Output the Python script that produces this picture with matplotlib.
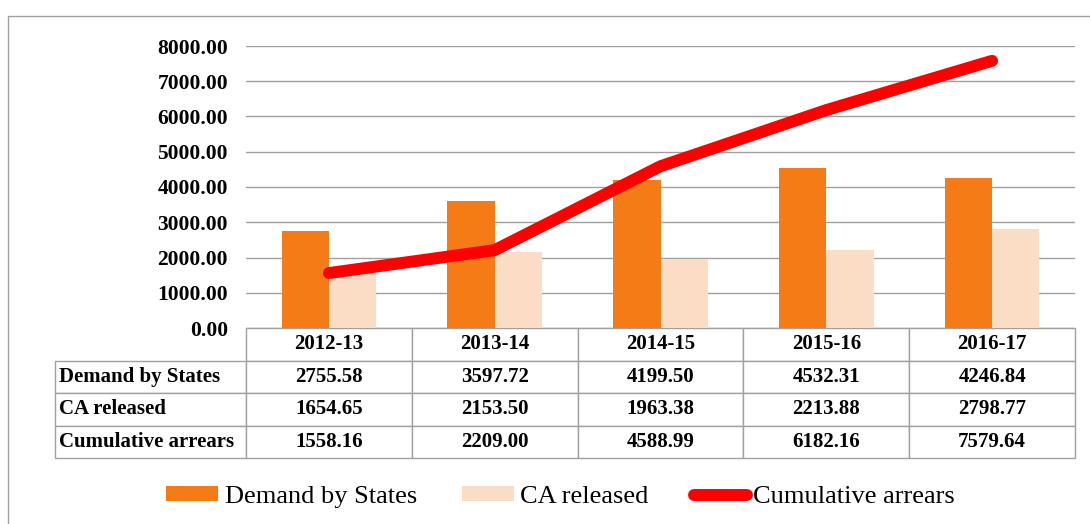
import numpy as np
import matplotlib.pyplot as plt
from matplotlib.patches import Rectangle

years = ['2012-13', '2013-14', '2014-15', '2015-16', '2016-17']
demand = [2755.58, 3597.72, 4199.50, 4532.31, 4246.84]
ca_released = [1654.65, 2153.50, 1963.38, 2213.88, 2798.77]
cumulative = [1558.16, 2209.00, 4588.99, 6182.16, 7579.64]
series_names = ['Demand by States', 'CA released', 'Cumulative arrears']

c_demand = '#F47B16'
c_ca = '#FBDCC4'
c_cum = '#FF0000'

plt.rcParams['font.family'] = ['Liberation Serif', 'DejaVu Serif']

W, H = 1090, 524
fig = plt.figure(figsize=(W / 100, H / 100), dpi=100)
# axes box in pixels
x0, x1, ytop, ybot = 246, 1075, 46, 328
ax = fig.add_axes([x0 / W, 1 - ybot / H, (x1 - x0) / W, (ybot - ytop) / H])

x = np.arange(len(years))
bw = 0.285
b1 = ax.bar(x - bw / 2, demand, bw, color=c_demand, label=series_names[0], zorder=2)
b2 = ax.bar(x + bw / 2, ca_released, bw, color=c_ca, label=series_names[1], zorder=2)
l1, = ax.plot(x, cumulative, color=c_cum, lw=8.6, solid_capstyle='round',
              solid_joinstyle='round', label=series_names[2], zorder=3)

ax.set_xlim(-0.5, len(years) - 0.5)
ax.set_ylim(0, 8000)
ax.set_yticks(np.arange(0, 8001, 1000))
ax.set_yticklabels([f'{v:.2f}' for v in np.arange(0, 8001, 1000)],
                   fontweight='bold', fontsize=15.5)
ax.tick_params(axis='y', length=0, pad=13)
ax.set_xticks([])
ax.yaxis.grid(True, color='#a0a0a0', lw=1)
ax.set_axisbelow(True)
for s in ax.spines.values():
    s.set_visible(False)

# data table under the plot
aw = x1 - x0
ah = ybot - ytop
lab_w = 246 - 55
tab_h = 458 - 328
cell_text = [[name] + [f'{v:.2f}' for v in vals]
             for name, vals in zip(series_names, [demand, ca_released, cumulative])]
tbl = ax.table(cellText=cell_text, colLabels=[''] + years,
               colWidths=[lab_w / aw] + [1 / len(years)] * len(years),
               bbox=[-lab_w / aw, -tab_h / ah, (lab_w + aw) / aw, tab_h / ah],
               cellLoc='center')
tbl.auto_set_font_size(False)
for (r, c), cell in tbl.get_celld().items():
    cell.set_edgecolor('#a0a0a0')
    cell.set_linewidth(1)
    cell.get_text().set_fontsize(15)
    cell.get_text().set_fontweight('bold')
    if c == 0:
        cell.get_text().set_ha('left')
        cell.PAD = 0.02
    if r == 0 and c == 0:
        cell.visible_edges = ''

# outer frame
fig.add_artist(Rectangle((8 / W, -0.1), 1.2, 1 - 16 / H + 0.1,
                         transform=fig.transFigure, fill=False,
                         edgecolor='#a0a0a0', lw=1))

fig.legend([b1, b2, l1], series_names, loc='center',
           bbox_to_anchor=(560 / W, 1 - 497 / H), ncol=3,
           frameon=False, fontsize=19, handlelength=2.0, handleheight=0.5,
           handletextpad=0.23, columnspacing=1.7)

fig.savefig('out.png', dpi=100)
